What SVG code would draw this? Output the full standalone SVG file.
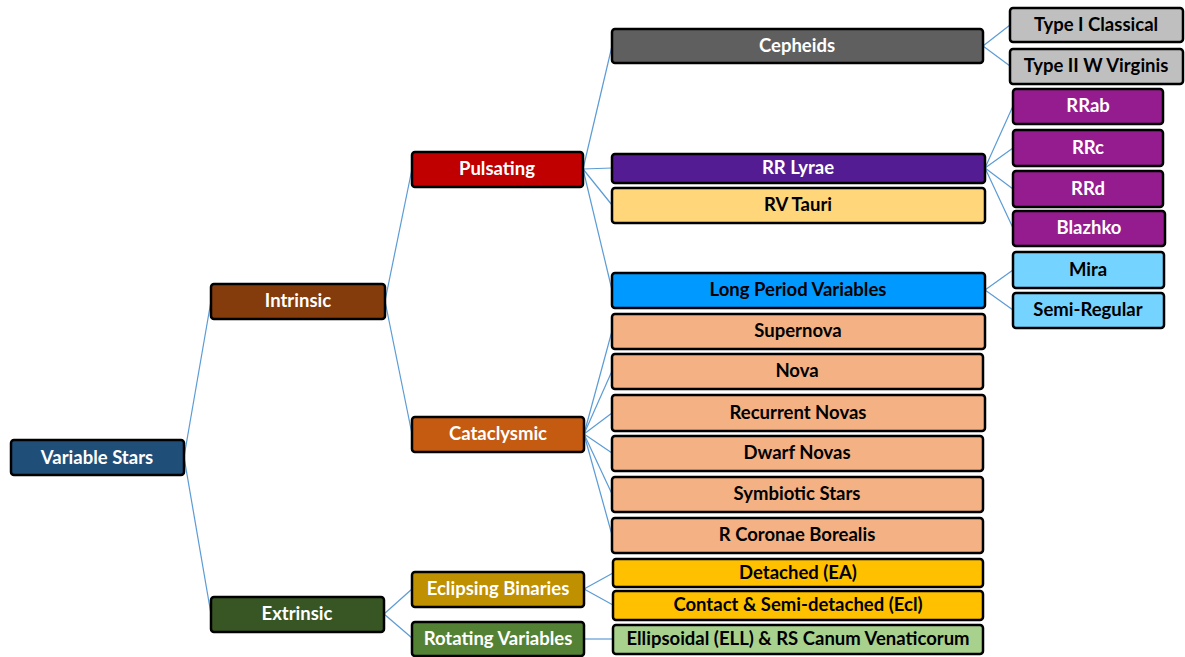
<svg xmlns="http://www.w3.org/2000/svg" width="1185" height="657" viewBox="0 0 1185 657">
  <style>
    .box { stroke: #000; stroke-width: 2.5; }
    .lbl { font-family: Lato, "Open Sans", "Liberation Sans", sans-serif; font-weight: bold; font-size: 18.5px; text-anchor: middle; dominant-baseline: central; }
    .w { fill: #fff; }
    .k { fill: #000; }
    #connectors line { stroke: #5B9BD5; stroke-width: 1.2; }
  </style>
  <rect width="1185" height="657" fill="#fff"/>

  <g id="connectors">
    <line x1="184" y1="457" x2="211" y2="301"/>
    <line x1="184" y1="457" x2="211" y2="614"/>
    <line x1="385" y1="301" x2="412" y2="169"/>
    <line x1="385" y1="301" x2="412" y2="434"/>
    <line x1="583" y1="169" x2="612" y2="46"/>
    <line x1="583" y1="169" x2="612" y2="168"/>
    <line x1="583" y1="169" x2="612" y2="205"/>
    <line x1="583" y1="169" x2="612" y2="290"/>
    <line x1="584" y1="434" x2="612" y2="331"/>
    <line x1="584" y1="434" x2="612" y2="371"/>
    <line x1="584" y1="434" x2="612" y2="413"/>
    <line x1="584" y1="434" x2="612" y2="453"/>
    <line x1="584" y1="434" x2="612" y2="494"/>
    <line x1="584" y1="434" x2="612" y2="535"/>
    <line x1="384" y1="614" x2="412" y2="589"/>
    <line x1="384" y1="614" x2="412" y2="638"/>
    <line x1="584" y1="589" x2="613" y2="573"/>
    <line x1="584" y1="589" x2="613" y2="605"/>
    <line x1="584" y1="639" x2="613" y2="639"/>
    <line x1="983" y1="46" x2="1010" y2="25"/>
    <line x1="983" y1="46" x2="1010" y2="66"/>
    <line x1="985" y1="168" x2="1013" y2="106"/>
    <line x1="985" y1="168" x2="1013" y2="148"/>
    <line x1="985" y1="168" x2="1013" y2="189"/>
    <line x1="985" y1="168" x2="1013" y2="228"/>
    <line x1="985" y1="290" x2="1013" y2="270"/>
    <line x1="985" y1="290" x2="1013" y2="310"/>
  </g>

  <g id="variable-stars"><rect class="box" x="11" y="440" width="173" height="35" rx="3" fill="#1F4E79"/><text class="lbl w" x="97" y="457">Variable Stars</text></g>

  <g id="intrinsic"><rect class="box" x="211" y="284" width="174" height="35" rx="3" fill="#843C0C"/><text class="lbl w" x="298" y="300">Intrinsic</text></g>
  <g id="extrinsic"><rect class="box" x="211" y="597" width="173" height="35" rx="3" fill="#375623"/><text class="lbl w" x="297" y="613">Extrinsic</text></g>

  <g id="pulsating"><rect class="box" x="412" y="152" width="171" height="35" rx="3" fill="#C00000"/><text class="lbl w" x="497" y="168">Pulsating</text></g>
  <g id="cataclysmic"><rect class="box" x="412" y="417" width="172" height="35" rx="3" fill="#C55A11"/><text class="lbl w" x="498" y="433">Cataclysmic</text></g>
  <g id="eclipsing-binaries"><rect class="box" x="412" y="572" width="172" height="35" rx="3" fill="#BF9000"/><text class="lbl w" x="498" y="588">Eclipsing Binaries</text></g>
  <g id="rotating-variables"><rect class="box" x="412" y="622" width="172" height="34" rx="3" fill="#548235"/><text class="lbl w" x="498" y="638">Rotating Variables</text></g>

  <g id="cepheids"><rect class="box" x="612" y="29" width="371" height="34" rx="3" fill="#5F5F5F"/><text class="lbl w" x="797" y="45">Cepheids</text></g>
  <g id="rr-lyrae"><rect class="box" x="612" y="154" width="373" height="29" rx="3" fill="#541C92"/><text class="lbl w" x="798" y="167">RR Lyrae</text></g>
  <g id="rv-tauri"><rect class="box" x="612" y="188" width="373" height="35" rx="3" fill="#FFD67A"/><text class="lbl k" x="798" y="204">RV Tauri</text></g>
  <g id="long-period-variables"><rect class="box" x="612" y="273" width="373" height="35" rx="3" fill="#0099FF"/><text class="lbl k" x="798" y="289">Long Period Variables</text></g>

  <g id="supernova"><rect class="box" x="612" y="314" width="373" height="35" rx="3" fill="#F4B183"/><text class="lbl k" x="798" y="330">Supernova</text></g>
  <g id="nova"><rect class="box" x="612" y="354" width="371" height="35" rx="3" fill="#F4B183"/><text class="lbl k" x="797" y="370">Nova</text></g>
  <g id="recurrent-novas"><rect class="box" x="612" y="395" width="373" height="36" rx="3" fill="#F4B183"/><text class="lbl k" x="798" y="412">Recurrent Novas</text></g>
  <g id="dwarf-novas"><rect class="box" x="612" y="436" width="371" height="35" rx="3" fill="#F4B183"/><text class="lbl k" x="797" y="452">Dwarf Novas</text></g>
  <g id="symbiotic-stars"><rect class="box" x="612" y="477" width="371" height="35" rx="3" fill="#F4B183"/><text class="lbl k" x="797" y="493">Symbiotic Stars</text></g>
  <g id="r-coronae-borealis"><rect class="box" x="612" y="518" width="371" height="35" rx="3" fill="#F4B183"/><text class="lbl k" x="797" y="534">R Coronae Borealis</text></g>

  <g id="detached"><rect class="box" x="613" y="559" width="370" height="28" rx="3" fill="#FFC000"/><text class="lbl k" x="798" y="572">Detached (EA)</text></g>
  <g id="contact"><rect class="box" x="613" y="591" width="370" height="29" rx="3" fill="#FFC000"/><text class="lbl k" x="798" y="604">Contact &amp; Semi-detached (Ecl)</text></g>
  <g id="ellipsoidal"><rect class="box" x="613" y="625" width="370" height="29" rx="3" fill="#A9D18E"/><text class="lbl k" x="798" y="638">Ellipsoidal (ELL) &amp; RS Canum Venaticorum</text></g>

  <g id="type-i-classical"><rect class="box" x="1010" y="8" width="173" height="34" rx="3" fill="#BFBFBF"/><text class="lbl k" x="1096" y="24">Type I Classical</text></g>
  <g id="type-ii-w-virginis"><rect class="box" x="1010" y="49" width="173" height="35" rx="3" fill="#BFBFBF"/><text class="lbl k" x="1096" y="65">Type II W Virginis</text></g>

  <g id="rrab"><rect class="box" x="1013" y="89" width="150" height="35" rx="3" fill="#941C8E"/><text class="lbl w" x="1088" y="105">RRab</text></g>
  <g id="rrc"><rect class="box" x="1013" y="130" width="150" height="36" rx="3" fill="#941C8E"/><text class="lbl w" x="1088" y="147">RRc</text></g>
  <g id="rrd"><rect class="box" x="1013" y="171" width="150" height="36" rx="3" fill="#941C8E"/><text class="lbl w" x="1088" y="188">RRd</text></g>
  <g id="blazhko"><rect class="box" x="1013" y="211" width="152" height="35" rx="3" fill="#941C8E"/><text class="lbl w" x="1089" y="227">Blazhko</text></g>

  <g id="mira"><rect class="box" x="1013" y="252" width="151" height="36" rx="3" fill="#75D3FF"/><text class="lbl k" x="1088" y="269">Mira</text></g>
  <g id="semi-regular"><rect class="box" x="1013" y="293" width="151" height="35" rx="3" fill="#75D3FF"/><text class="lbl k" x="1088" y="309">Semi-Regular</text></g>
</svg>
